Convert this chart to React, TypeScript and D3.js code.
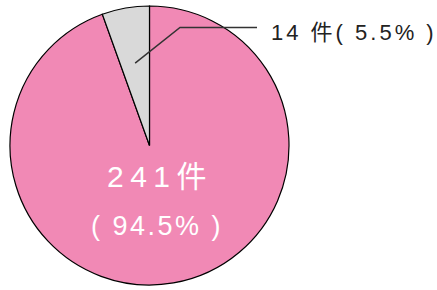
import React from "react"
import * as d3 from "d3"

const categories = ["pink", "gray"]
const counts = [241, 14]
const percents = ["94.5%", "5.5%"]
const colors = ["#F189B5", "#D9D9D9"]

const W = 437
const H = 290
const cx = 149.5
const cy = 145.5
const R = 139.5

export default function App() {
  // pink from 12 o'clock clockwise, gray fills the rest just left of the top
  const pie = d3.pie<number>().sort(null)
  const arcs = pie(counts)
  const arc = d3.arc<d3.PieArcDatum<number>>().innerRadius(0).outerRadius(R)

  const gray = arcs[1]
  const mid = (gray.startAngle + gray.endAngle) / 2
  const p0 = d3.arc<any>().innerRadius(R * 0.6).outerRadius(R * 0.6).centroid({ startAngle: mid, endAngle: mid })

  return (
    <svg width={W} height={H} style={{ position: "absolute", left: 0, top: 0 }}
      fontFamily="'Liberation Sans', Arial, 'Noto Sans CJK JP', sans-serif">
      <g transform={`translate(${cx},${cy})`}>
        {arcs.map((a, i) => (
          <path key={categories[i]} d={arc(a) || ""} fill={colors[i]} stroke="#000" strokeWidth={1.2} />
        ))}
        <polyline points={`${p0[0]},${p0[1]} ${180 - cx},${27.5 - cy} ${257 - cx},${27.5 - cy}`}
          fill="none" stroke="#333" strokeWidth={1.5} />
      </g>
      <text x={107} y={187} fill="#fff" fontSize={30} letterSpacing={6.5}>
        {counts[0]}件
      </text>
      <text x={91} y={235} fill="#fff" fontSize={27} letterSpacing={2.5}>
        ( {percents[0]} )
      </text>
      <text x={271} y={39.5} fill="#222" fontSize={22} letterSpacing={3}>
        {counts[1]} 件( {percents[1]} )
      </text>
    </svg>
  )
}
